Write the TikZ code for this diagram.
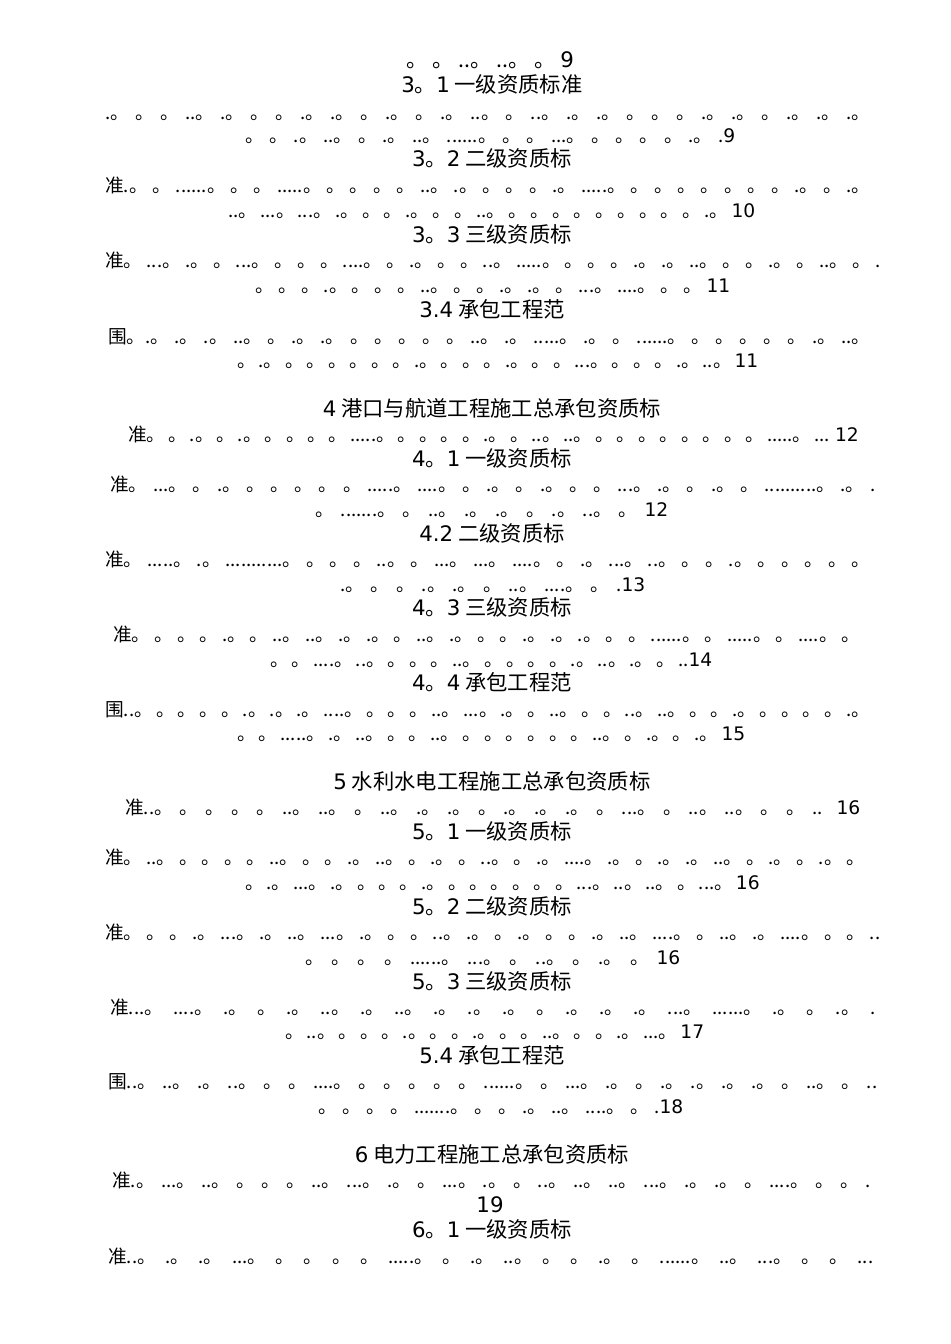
\documentclass[tikz,border=0pt]{standalone}
\usepackage{fontspec}
\setmainfont{Noto Sans CJK SC}
\newfontfamily\lat{DejaVu Sans}
\begin{document}
\begin{tikzpicture}[x=0.75pt,y=-0.75pt,
  t/.style={inner sep=0pt,font=\fontsize{16}{18}\selectfont,anchor=base},
  d/.style={inner sep=0pt,font=\fontsize{14}{16}\selectfont,anchor=base west}]
\useasboundingbox (0,0) rectangle (950,1344);
\newcommand{\hd}[3]{\node[t] (#3) at (492,#1) {#2};}
\newcommand{\dl}[5]{\pgfmathsetmacro\w{(#3-#2)*0.75}\node[d] (#5) at (#2,#1) {\makebox[\w pt][s]{#4}};}
\node[t] (l0) at (490,68) {。 。 ..。 ..。 。 {\lat 9}};
\hd{93}{{\lat 3}。{\lat 1} 一级资质标准}{h1}
\dl{120}{105}{870}{.。 。 。 ..。 .。 。 。 .。 .。 。 .。 。 .。 ..。 。 ..。 .。 .。 。 。 。 .。 .。 。 .。 .。 .。}{a1}
\dl{143}{245}{735}{。 。 .。 ..。 。 .。 ..。 ......。 。 。 ...。 。 。 。 。 .。 .{\lat 9}}{a2}
\hd{167}{{\lat 3}。{\lat 2} 二级资质标}{h2}
\dl{193}{105}{870}{准.。 。 ......。 。 。 .....。 。 。 。 。 ..。 .。 。 。 。 .。 .....。 。 。 。 。 。 。 。 .。 。 .。}{a3}
\dl{218}{228}{755}{..。 ...。 ...。 .。 。 。 .。 。 。 ..。 。 。 。 。 。 。 。 。 。 .。 {\lat 10}}{a4}
\hd{243}{{\lat 3}。{\lat 3} 三级资质标}{h3}
\dl{268}{105}{880}{准。 ...。 .。 。 ...。 。 。 。 ....。 。 .。 。 。 ..。 .....。 。 。 。 .。 .。 ..。 。 。 .。 。 ..。 。 .}{a5}
\dl{293}{255}{730}{。 。 。 .。 。 。 。 ..。 。 。 .。 .。 。 ...。 ....。 。 。 {\lat 11}}{a6}
\hd{317}{{\lat 3.4} 承包工程范}{h4}
\dl{343}{108}{870}{围。.。 .。 .。 ..。 。 .。 .。 。 。 。 。 。 ..。 .。 .....。 .。 。 ......。 。 。 。 。 。 .。 ..。}{a7}
\dl{367}{237}{750}{。 .。 。 。 。 。 。 。 .。 。 。 。 .。 。 。 ...。 。 。 。 .。 ..。 {\lat 11}}{a8}
\hd{416}{{\lat 4} 港口与航道工程施工总承包资质标}{h5}
\dl{441}{128}{857}{准。 。 .。 。 .。 。 。 。 。 .....。 。 。 。 。 .。 。 ..。 ..。 。 。 。 。 。 。 。 。 .....。 ... {\lat 12}}{b1}
\hd{466}{{\lat 4}。{\lat 1} 一级资质标}{h6}
\dl{491}{110}{875}{准。 ...。 。 .。 。 。 。 。 。 .....。 ....。 。 .。 。 .。 。 。 ...。 .。 。 .。 。 ..........。 .。 .}{b2}
\dl{516}{315}{668}{。 .......。 。 ..。 .。 .。 。 .。 ..。 。 {\lat 12}}{b3}
\hd{541}{{\lat 4.2} 二级资质标}{h7}
\dl{566}{105}{870}{准。 .....。 .。 ...........。 。 。 。 ..。 。 ...。 ...。 ....。 。 .。 ...。 ..。 。 。 .。 。 。 。 。 。}{b4}
\dl{591}{340}{645}{.。 。 。 .。 .。 。 ..。 ....。 。 .{\lat 13}}{b5}
\hd{615}{{\lat 4}。{\lat 3} 三级资质标}{h8}
\dl{641}{113}{860}{准。 。 。 。 .。 。 ..。 ..。 .。 .。 。 ..。 .。 。 。 .。 .。 .。 。 。 ......。 。 .....。 。 ....。 。}{b6}
\dl{666}{270}{712}{。 。 ....。 ..。 。 。 。 ..。 。 。 。 。 .。 ..。 .。 。 ..{\lat 14}}{b7}
\hd{690}{{\lat 4}。{\lat 4} 承包工程范}{h9}
\dl{716}{105}{870}{围..。 。 。 。 。 .。 .。 .。 ....。 。 。 。 ..。 ...。 .。 。 ..。 。 。 ..。 ..。 。 。 .。 。 。 。 。 .。}{b8}
\dl{740}{237}{745}{。 。 .....。 .。 ..。 。 。 ..。 。 。 。 。 。 。 ..。 。 .。 。 .。 {\lat 15}}{b9}
\hd{789}{{\lat 5} 水利水电工程施工总承包资质标}{h10}
\dl{814}{125}{860}{准..。 。 。 。 。 ..。 ..。 。 ..。 .。 .。 。 .。 .。 .。 。 ...。 。 ..。 ..。 。 。 .. {\lat 16}}{c1}
\hd{839}{{\lat 5}。{\lat 1} 一级资质标}{h11}
\dl{864}{105}{865}{准。 ..。 。 。 。 。 ..。 。 。 .。 ..。 。 .。 。 ..。 。 .。 ....。 .。 。 .。 .。 ..。 。 .。 。 .。 。}{c2}
\dl{889}{245}{740}{。 .。 ...。 .。 。 。 。 .。 。 。 。 。 。 。 ...。 ..。 ..。 。 ...。 {\lat 16}}{c3}
\hd{914}{{\lat 5}。{\lat 2} 二级资质标}{h12}
\dl{939}{105}{880}{准。 。 。 .。 ...。 .。 ..。 ...。 .。 。 。 ..。 .。 。 .。 。 。 .。 ..。 ....。 。 ..。 .。 ....。 。 。 ..}{c4}
\dl{964}{305}{680}{。 。 。 。 ......。 ...。 。 ..。 。 .。 。 {\lat 16}}{c5}
\hd{989}{{\lat 5}。{\lat 3} 三级资质标}{h13}
\dl{1014}{110}{875}{准...。 ....。 .。 。 .。 ..。 .。 ..。 .。 .。 .。 。 .。 .。 .。 ...。 ......。 .。 。 .。 .}{c6}
\dl{1038}{285}{700}{。 ..。 。 。 。 .。 。 。 .。 。 。 ..。 。 。 .。 ...。 {\lat 17}}{c7}
\hd{1063}{{\lat 5.4} 承包工程范}{h14}
\dl{1088}{108}{877}{围..。 ..。 .。 ..。 。 。 ....。 。 。 。 。 。 ......。 。 ...。 .。 。 .。 .。 .。 .。 。 ..。 。 ..}{c8}
\dl{1113}{318}{683}{。 。 。 。 .......。 。 。 .。 ..。 ....。 。 .{\lat 18}}{c9}
\hd{1162}{{\lat 6} 电力工程施工总承包资质标}{h15}
\dl{1187}{112}{870}{准.。 ...。 ..。 。 。 。 ..。 ...。 .。 。 ...。 .。 。 ..。 ..。 ..。 ...。 .。 .。 。 ....。 。 。 .}{d1}
\node[t] (d2) at (490,1212) {\lat 19};
\hd{1237}{{\lat 6}。{\lat 1} 一级资质标}{h16}
\dl{1263}{108}{873}{准..。 .。 .。 ...。 。 。 。 。 .....。 。 .。 ..。 。 。 .。 。 ......。 ..。 ...。 。 。 ...}{d3}
\end{tikzpicture}
\end{document}
